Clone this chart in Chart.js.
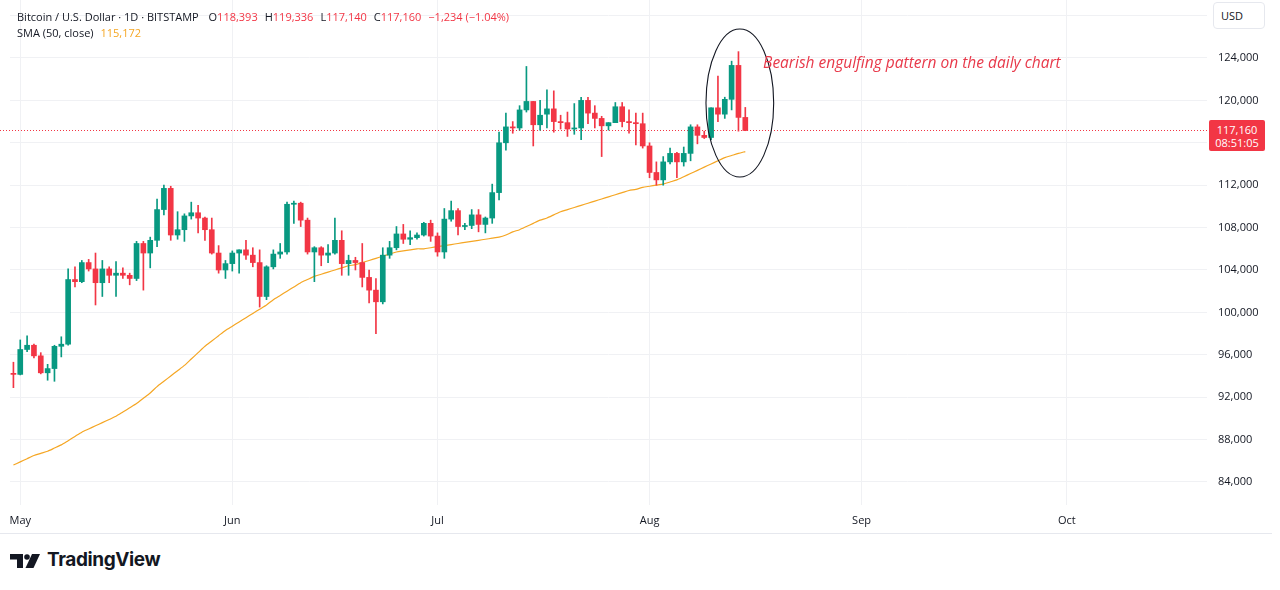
<!DOCTYPE html>
<html>
<head>
<meta charset="utf-8">
<title>BTCUSD 1D</title>
<script src="https://cdn.jsdelivr.net/npm/chart.js@4.4.1/dist/chart.umd.min.js"></script>
<style>
  html, body { margin: 0; padding: 0; background: #fff; }
  body { width: 1280px; height: 590px; position: relative; overflow: hidden;
         font-family: "Open Sans", "Noto Sans", sans-serif; color: #131722; }
  #wrap { position: absolute; left: 0; top: 0; width: 1280px; height: 534px; }
  .legend { position: absolute; left: 17px; font-size: 11px; line-height: 16px; white-space: nowrap; }
  .legend b { font-weight: normal; margin-left: 7px; }
  .red { color: #f23645; }
  .sma { color: #f5a623; }
  #usd { position: absolute; left: 1213px; top: 2px; width: 52px; height: 27px; box-sizing: border-box;
         border: 1px solid #e6e8ee; border-radius: 4px; background: #fff; font-size: 11px; line-height: 25px; padding-left: 7px; }
  #tag { position: absolute; left: 1209px; width: 56px; height: 31px; background: #f23645; color: #fff;
         border-radius: 2px; font-size: 11px; line-height: 13px; text-align: center; padding-top: 3px; box-sizing: border-box; }
  #note { position: absolute; color: #e8394a; font-style: italic; font-size: 15.5px; white-space: nowrap; line-height: 20px; }
  #bottomline { position: absolute; left: 0; top: 533px; width: 1272px; height: 1px; background: #e6e8ee; }
  #logo { position: absolute; left: 10px; top: 554px; }
  #brand { position: absolute; left: 47px; top: 548px; font-family: Inter, "Open Sans", sans-serif;
           font-weight: 700; font-size: 19px; letter-spacing: -0.4px; color: #131722; }
</style>
</head>
<body>
<div id="wrap"><canvas id="chart" width="1280" height="534"></canvas></div>
<div class="legend" style="top:9px">Bitcoin / U.S. Dollar · 1D · BITSTAMP
  <b>O<span class="red" id="vO"></span></b><b>H<span class="red" id="vH"></span></b><b>L<span class="red" id="vL"></span></b><b>C<span class="red" id="vC"></span></b><b class="red" id="vChg"></b></div>
<div class="legend" style="top:25px">SMA (50, close) <span class="sma" id="vSma" style="margin-left:4px"></span></div>
<div id="usd">USD</div>
<div id="tag"><div id="tagPrice"></div><div>08:51:05</div></div>
<div id="note">Bearish engulfing pattern on the daily chart</div>
<div id="bottomline"></div>
<svg id="logo" width="32" height="15" viewBox="0 0 32 15">
  <path d="M0 0H13V14H7V5.5H0Z" fill="#131722"/>
  <circle cx="17" cy="3" r="2.8" fill="#131722"/>
  <path d="M22 0H30L23.5 14H15.5Z" fill="#131722"/>
</svg>
<div id="brand">TradingView</div>
<script>
// daily candles, Bitstamp BTC/USD, 30 Apr 2025 .. 15 Aug 2025
const startDay = [2025, 3, 30];
const totalDays = 175; // axis runs on into late October

const opens = [94250, 94150, 96500, 96900, 95900, 94300, 94700, 96800, 97000, 103100,
  102900, 104700, 104100, 102800, 104100, 103500, 103700, 103500, 103200, 106500,
  105600, 106800, 109700, 111700, 107300, 107800, 109100, 109400, 108900, 107800,
  105600, 104000, 104600, 105600, 105900, 105400, 104700, 101500, 104300, 105500,
  105700, 110200, 110300, 108700, 105700, 106100, 105400, 105600, 106800, 104600,
  104900, 104700, 103300, 102100, 101000, 105400, 106100, 107400, 106900, 107050,
  107300, 108400, 107200, 105700, 108800, 109600, 108100, 108200, 109200, 108300,
  108900, 111300, 116000, 117500, 117400, 119100, 119900, 117700, 118700, 119200,
  118000, 117900, 117300, 117400, 120000, 118800, 118300, 117600, 117900, 119400,
  118000, 117900, 117800, 115700, 113200, 112500, 114200, 115000, 114200, 115000,
  117500, 116700, 116500, 119300, 118700, 120100, 123300, 118393];

const highs = [95300, 97400, 97800, 97000, 96200, 95100, 96900, 97700, 104100, 104300,
  104900, 105000, 105600, 104900, 104300, 104800, 104200, 103700, 106700, 106700,
  107100, 110700, 112000, 111900, 109500, 109300, 110400, 110100, 109000, 108900,
  106300, 104900, 105800, 105900, 106800, 106100, 105900, 104400, 105900, 106500,
  110400, 110500, 110400, 108900, 106200, 106200, 106400, 108900, 107700, 105400,
  105200, 106500, 104000, 103200, 106100, 106700, 108100, 108300, 107700, 107500,
  108500, 108700, 107500, 109800, 110500, 109800, 108400, 109700, 109700, 109000,
  112100, 117000, 118800, 118000, 119500, 123200, 119900, 120000, 121000, 120900,
  118600, 118900, 119700, 120300, 120300, 119500, 118500, 117900, 119800, 119800,
  119100, 118800, 118800, 116000, 114200, 114700, 115500, 115100, 115600, 117700,
  117700, 117100, 119300, 122300, 120300, 123700, 124600, 119336];

const lows = [92900, 94100, 96300, 95700, 94200, 93600, 93500, 95800, 96900, 102400,
  102800, 103900, 100700, 101500, 102800, 101500, 103200, 102600, 103000, 102100,
  104200, 106200, 109200, 106800, 106900, 106700, 108800, 107500, 106800, 105500,
  103700, 103200, 103900, 103700, 105000, 104300, 100500, 101200, 104100, 105100,
  105500, 108400, 108100, 105500, 102900, 104400, 104700, 105500, 103500, 103500,
  104000, 102400, 100900, 98000, 100800, 105100, 105900, 106500, 106400, 106900,
  107200, 106700, 105300, 105100, 108600, 107300, 107800, 107900, 107600, 107500,
  108400, 110600, 115300, 116900, 117200, 118900, 115700, 117200, 117400, 117000,
  117300, 116600, 116800, 116300, 117800, 117400, 114700, 117200, 117900, 117500,
  116900, 115800, 115500, 112700, 112000, 112000, 114000, 112700, 113800, 114300,
  115900, 116400, 116300, 118000, 118300, 119100, 117100, 117140];

const closes = [94150, 96500, 96900, 95900, 94300, 94700, 96800, 97000, 103100, 102900,
  104700, 104100, 102800, 104100, 103500, 103700, 103500, 103200, 106500, 105600,
  106800, 109700, 111700, 107300, 107800, 109100, 109400, 108900, 107800, 105600,
  104000, 104600, 105600, 105900, 105400, 104700, 101500, 104300, 105500, 105700,
  110200, 110300, 108700, 105700, 106100, 105400, 105600, 106800, 104600, 104900,
  104700, 103300, 102100, 101000, 105400, 106100, 107400, 106900, 107050, 107300,
  108400, 107200, 105700, 108800, 109600, 108100, 108200, 109200, 108300, 108900,
  111300, 116000, 117500, 117400, 119100, 119900, 117700, 118600, 119200, 118000,
  117900, 117300, 117400, 120000, 118800, 118300, 117600, 117900, 119400, 118000,
  117900, 117800, 115700, 113200, 112500, 114200, 115000, 114200, 115000, 117500,
  116700, 116500, 119300, 118700, 120100, 123300, 118394, 117160];

// SMA(50, close)
const sma50 = [85600, 85900, 86200, 86500, 86700, 86900, 87200, 87500, 87900, 88300,
  88700, 89000, 89300, 89600, 89900, 90200, 90600, 91000, 91400, 91900,
  92400, 93000, 93500, 94000, 94500, 95000, 95600, 96200, 96800, 97300,
  97800, 98300, 98700, 99100, 99500, 99900, 100300, 100700, 101200, 101600,
  102000, 102400, 102800, 103100, 103400, 103600, 103800, 104000, 104200, 104400,
  104500, 104700, 104900, 105100, 105300, 105500, 105700, 105800, 105900, 106000,
  106000, 106100, 106200, 106300, 106400, 106500, 106600, 106700, 106800, 106900,
  107000, 107100, 107300, 107600, 107800, 108100, 108400, 108700, 108900, 109200,
  109500, 109700, 109900, 110100, 110300, 110500, 110700, 110900, 111100, 111300,
  111500, 111600, 111800, 111900, 112000, 112100, 112300, 112500, 112800, 113100,
  113400, 113700, 114000, 114300, 114600, 114800, 115000, 115172];

const priceTicks = [84000, 88000, 92000, 96000, 100000, 104000, 108000, 112000,
  116000, 120000, 124000, 128000];
const monthNames = ['Jan', 'Feb', 'Mar', 'Apr', 'May', 'Jun', 'Jul', 'Aug', 'Sep', 'Oct', 'Nov', 'Dec'];

// ellipse round the last candles and the note next to it (day index / price)
const ring = { day: 106.2, price: 119750, halfDays: 4.95, halfPrice: 6980 };
const noteAt = { day: 109.6, price: 123600 };

const UP = '#089981';
const DOWN = '#f23645';
const GRID = '#f0f1f4';

const days = [];
for (let i = 0; i < totalDays; i++) {
  days.push(new Date(Date.UTC(startDay[0], startDay[1], startDay[2] + i)));
}
const dayLabels = days.map(d => d.toISOString().slice(0, 10));

const candleColors = opens.map((o, i) => closes[i] >= o ? UP : DOWN);
const fmt = v => Math.round(v).toLocaleString('en-US');

// legend values
const n = closes.length - 1;
const chg = closes[n] - closes[n - 1];
const sign = chg < 0 ? '\u2212' : '+';
document.getElementById('vO').textContent = fmt(opens[n]);
document.getElementById('vH').textContent = fmt(highs[n]);
document.getElementById('vL').textContent = fmt(lows[n]);
document.getElementById('vC').textContent = fmt(closes[n]);
document.getElementById('vChg').textContent =
  sign + fmt(Math.abs(chg)) + ' (' + sign + (Math.abs(chg) / closes[n - 1] * 100).toFixed(2) + '%)';
document.getElementById('vSma').textContent = fmt(sma50[n]);
document.getElementById('tagPrice').textContent = fmt(closes[n]);

const overlay = {
  id: 'overlay',
  beforeDatasetsDraw(chart) {
    // dotted line at the last close
    const { ctx, chartArea, scales: { y } } = chart;
    const py = Math.round(y.getPixelForValue(closes[n])) + 0.5;
    ctx.save();
    ctx.strokeStyle = DOWN;
    ctx.lineWidth = 1;
    ctx.setLineDash([1, 2]);
    ctx.beginPath();
    ctx.moveTo(0, py);
    ctx.lineTo(chartArea.right, py);
    ctx.stroke();
    ctx.restore();
  },
  afterDatasetsDraw(chart) {
    const { ctx, scales: { x, y } } = chart;
    const cx = x.getPixelForValue(ring.day);
    const cy = y.getPixelForValue(ring.price);
    const rx = x.getPixelForValue(ring.day + ring.halfDays) - cx;
    const ry = y.getPixelForValue(ring.price - ring.halfPrice) - cy;
    ctx.save();
    ctx.strokeStyle = '#131722';
    ctx.lineWidth = 1.1;
    ctx.beginPath();
    ctx.ellipse(cx, cy, rx, ry, 0, 0, Math.PI * 2);
    ctx.stroke();
    ctx.restore();

    const tag = document.getElementById('tag');
    tag.style.top = (y.getPixelForValue(closes[n]) - 10) + 'px';
    const note = document.getElementById('note');
    note.style.left = x.getPixelForValue(noteAt.day) + 'px';
    note.style.top = (y.getPixelForValue(noteAt.price) - 10) + 'px';
  }
};

Chart.defaults.font.family = '"Open Sans", "Noto Sans", sans-serif';
Chart.defaults.font.size = 11;
Chart.defaults.color = '#131722';

new Chart(document.getElementById('chart'), {
  type: 'bar',
  data: {
    labels: dayLabels,
    datasets: [
      {
        label: 'body',
        data: opens.map((o, i) => [o, closes[i]]),
        backgroundColor: candleColors,
        barThickness: 5,
        minBarLength: 1,
        grouped: false,
        order: 0
      },
      {
        label: 'wick',
        data: lows.map((l, i) => [l, highs[i]]),
        backgroundColor: candleColors,
        barThickness: 1,
        grouped: false,
        order: 1
      },
      {
        type: 'line',
        label: 'SMA (50, close)',
        data: sma50,
        borderColor: '#f5a623',
        borderWidth: 1.2,
        pointRadius: 0,
        tension: 0.2,
        order: 2
      }
    ]
  },
  options: {
    responsive: false,
    animation: false,
    events: [],
    layout: { padding: { left: 10, top: 0, right: 0, bottom: 0 } },
    plugins: { legend: { display: false }, tooltip: { enabled: false } },
    scales: {
      x: {
        type: 'category',
        grid: { color: GRID, offset: false, drawTicks: false },
        border: { display: false },
        afterBuildTicks: scale => {
          scale.ticks = scale.ticks.filter(t => days[t.value] && days[t.value].getUTCDate() === 1);
        },
        afterFit: scale => { scale.height = 29; scale.paddingLeft = 0; scale.paddingRight = 0; },
        ticks: {
          autoSkip: false,
          maxRotation: 0,
          padding: 9,
          callback: v => monthNames[days[v].getUTCMonth()]
        }
      },
      y: {
        position: 'right',
        min: 81830,
        max: 129470,
        grid: { color: GRID, drawTicks: false },
        border: { display: false },
        afterBuildTicks: scale => { scale.ticks = priceTicks.map(v => ({ value: v })); },
        afterFit: scale => { scale.width = 73; scale.paddingTop = 0; scale.paddingBottom = 0; },
        ticks: {
          padding: 11,
          callback: v => v === 128000 ? '' : fmt(v)
        }
      }
    }
  },
  plugins: [overlay]
});
</script>
</body>
</html>
